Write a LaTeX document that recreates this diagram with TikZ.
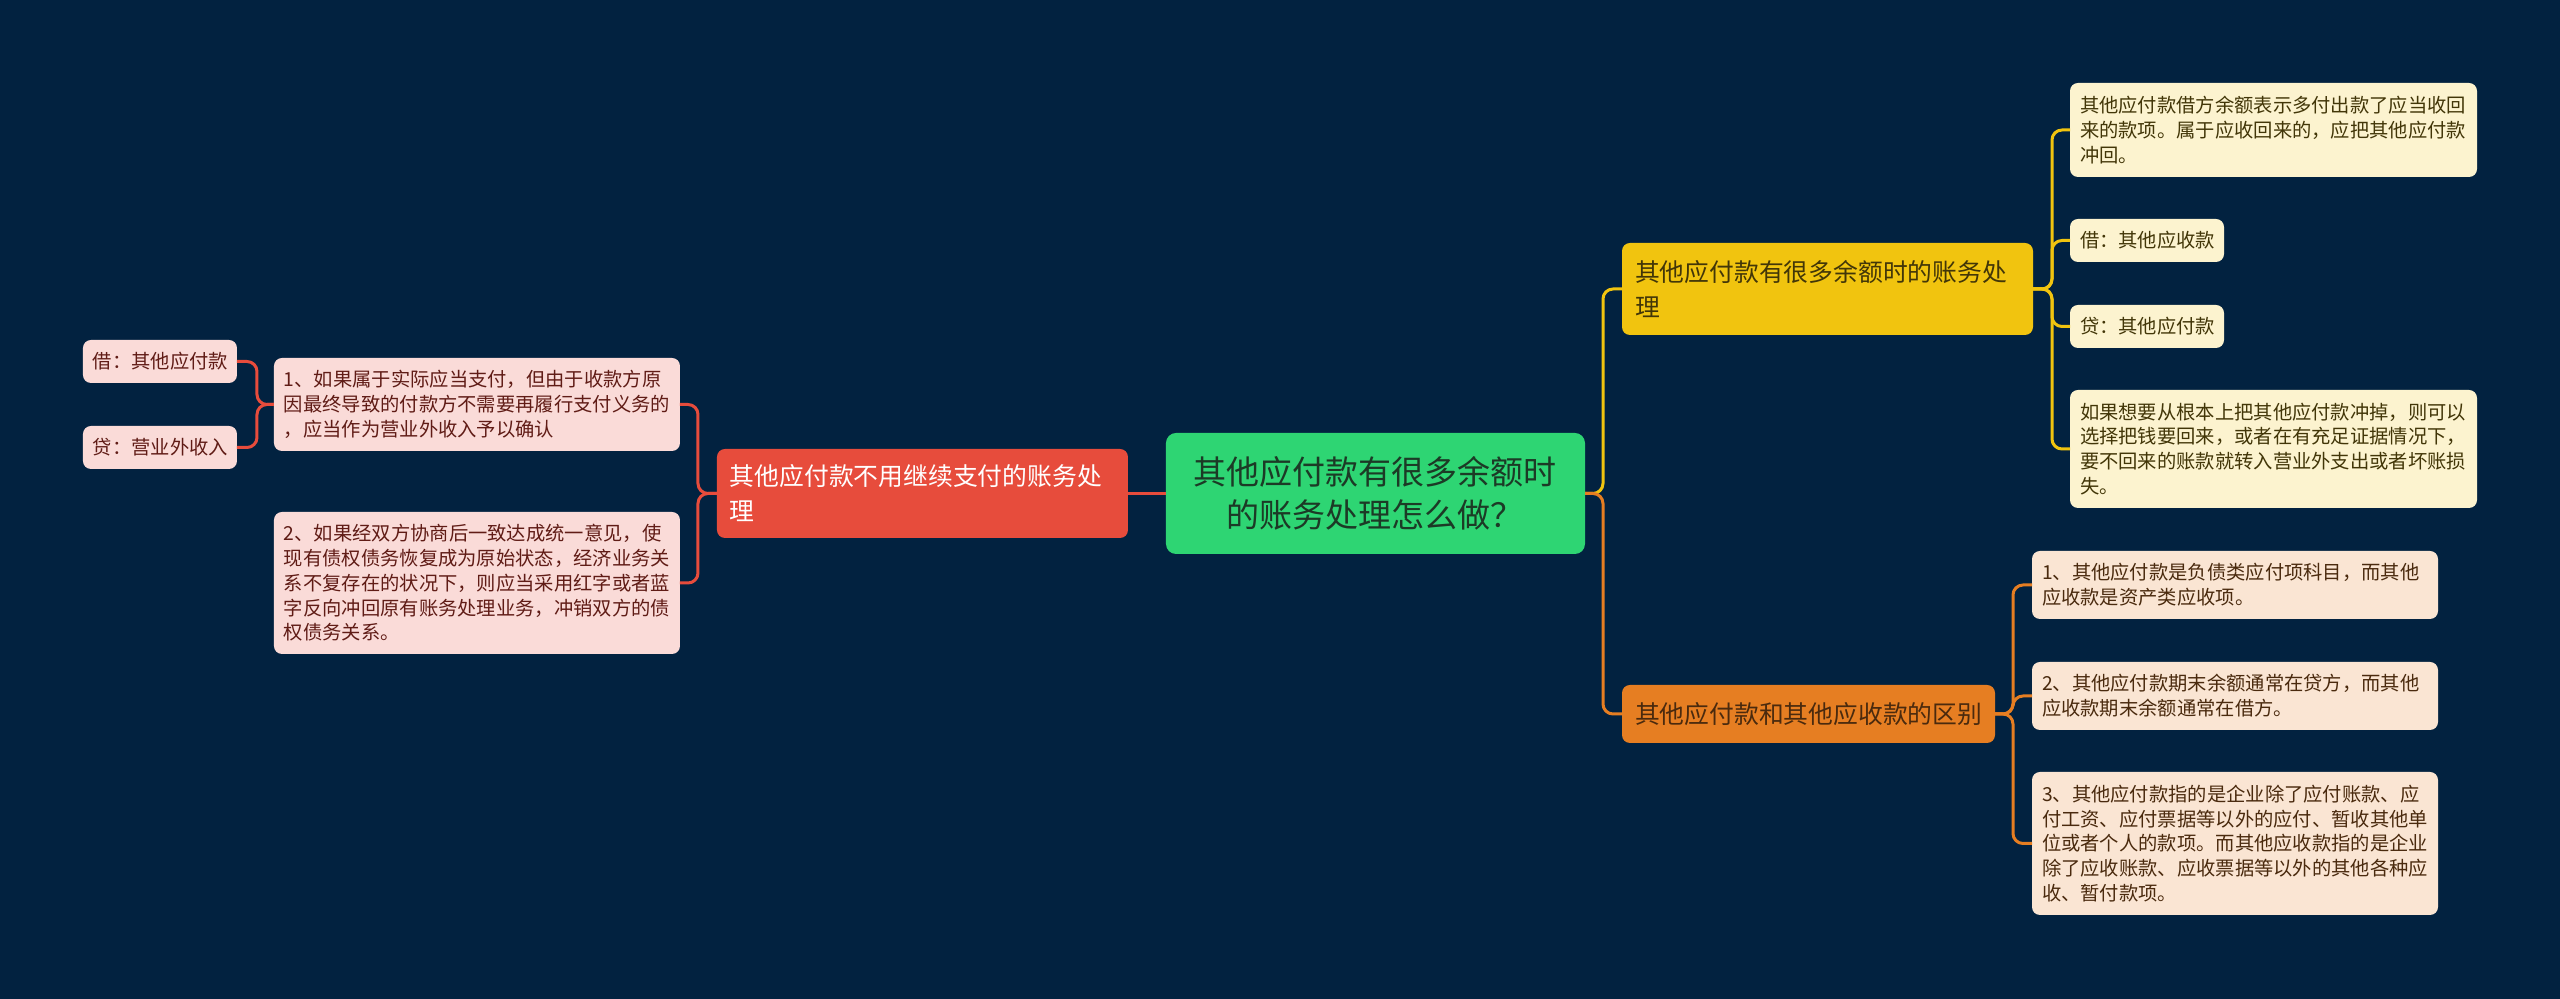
\documentclass[tikz,border=0pt]{standalone}
\usepackage{fontspec}
\setmainfont{Noto Sans CJK SC}
\usetikzlibrary{positioning}

\definecolor{bgnavy}{RGB}{2,34,64}
\definecolor{rootgreen}{RGB}{46,213,115}
\definecolor{redbr}{RGB}{231,76,60}
\definecolor{yellowbr}{RGB}{241,196,15}
\definecolor{orangebr}{RGB}{230,126,34}
\definecolor{redleaf}{RGB}{250,219,216}
\definecolor{yellowleaf}{RGB}{252,243,207}
\definecolor{orangeleaf}{RGB}{250,229,211}
\definecolor{roottext}{RGB}{28,58,38}
\definecolor{redtext}{RGB}{96,28,22}
\definecolor{yellowtext}{RGB}{66,54,8}
\definecolor{orangetext}{RGB}{74,42,14}

\begin{document}
\begin{tikzpicture}[
node distance = 21pt and 18.5pt,
every node/.style = {rounded corners=4pt, outer sep=0pt,
                     inner ysep=3pt, align=left},
rootbox/.style = {fill=rootgreen, text=roottext, rounded corners=5pt,
                  text width=181.5pt, inner xsep=14pt, minimum height=60.5pt,
                  align=center, font=\fontsize{16.5pt}{21.5pt}\selectfont},
branchbox/.style = {fill=#1, text width=192.5pt, inner xsep=6.5pt,
                    font=\fontsize{12.4pt}{17.5pt}\selectfont},
leafbox/.style = {fill=#1, text width=193pt, inner xsep=5pt,
                  font=\fontsize{9.65pt}{12.4pt}\selectfont},
conn/.style = {draw=#1, line width=1.5pt, rounded corners=5pt},
                    ]
%---
\fill[bgnavy, use as bounding box] (-687.75pt,246.75pt) rectangle (592.25pt,-252.75pt);


\node (root) [rootbox] {其他应付款有很多余额时\\的账务处理怎么做？};

% left branch
\node (red) [branchbox=redbr, text=white, minimum height=44.5pt, left=19pt of root]
      {其他应付款不用继续支付的账务处\\理};
\node (lpay1) [leafbox=redleaf, text=redtext, minimum height=46.5pt,
               above left=-1pt and 18.5pt of red]
      {1、如果属于实际应当支付，但由于收款方原\\因最终导致的付款方不需要再履行支付义务的\\，应当作为营业外收入予以确认};
\node (lpay2) [leafbox=redleaf, text=redtext, minimum height=71pt, below=30.5pt of lpay1]
      {2、如果经双方协商后一致达成统一意见，使\\现有债权债务恢复成为原始状态，经济业务关\\系不复存在的状况下，则应当采用红字或者蓝\\字反向冲回原有账务处理业务，冲销双方的债\\权债务关系。};
\node (ldebit) [leafbox=redleaf, text=redtext, text width=67pt, minimum height=21.5pt,
                above left=-12.5pt and 18.5pt of lpay1] {借：其他应付款};
\node (lcredit) [leafbox=redleaf, text=redtext, text width=67pt, minimum height=21.5pt,
                 below=21.5pt of ldebit] {贷：营业外收入};

% upper right branch
\node (yel) [branchbox=yellowbr, text=yellowtext, minimum height=46pt,
             above right=49pt and 18.5pt of root]
      {其他应付款有很多余额时的账务处\\理};
\node (ynote) [leafbox=yellowleaf, text=yellowtext, text width=193.5pt, minimum height=47pt,
               above right=33pt and 18.5pt of yel]
      {其他应付款借方余额表示多付出款了应当收回\\来的款项。属于应收回来的，应把其他应付款\\冲回。};
\node (ydebit) [leafbox=yellowleaf, text=yellowtext, text width=67pt, minimum height=21.5pt,
                below right=21pt and 0pt of ynote.south west] {借：其他应收款};
\node (ycredit) [leafbox=yellowleaf, text=yellowtext, text width=67pt, minimum height=21.5pt,
                 below=21.5pt of ydebit] {贷：其他应付款};
\node (ymore) [leafbox=yellowleaf, text=yellowtext, text width=193.5pt, minimum height=59pt,
               below right=21pt and 0pt of ycredit.south west]
      {如果想要从根本上把其他应付款冲掉，则可以\\选择把钱要回来，或者在有充足证据情况下，\\要不回来的账款就转入营业外支出或者坏账损\\失。};

% lower right branch
\node (org) [branchbox=orangebr, text=orangetext, text width=173.5pt, minimum height=29pt,
             below right=65.5pt and 18.5pt of root]
      {其他应付款和其他应收款的区别};
\node (odiff1) [leafbox=orangeleaf, text=orangetext, minimum height=34pt,
                above right=33pt and 18.5pt of org]
      {1、其他应付款是负债类应付项科目，而其他\\应收款是资产类应收项。};
\node (odiff2) [leafbox=orangeleaf, text=orangetext, minimum height=34pt,
                below=21.5pt of odiff1]
      {2、其他应付款期末余额通常在贷方，而其他\\应收款期末余额通常在借方。};
\node (odiff3) [leafbox=orangeleaf, text=orangetext, minimum height=71.5pt,
                below=21pt of odiff2]
      {3、其他应付款指的是企业除了应付账款、应\\付工资、应付票据等以外的应付、暂收其他单\\位或者个人的款项。而其他应收款指的是企业\\除了应收账款、应收票据等以外的其他各种应\\收、暂付款项。};

% connectors
\draw[conn=redbr] (root.west) -- (red.east);
\draw[conn=redbr] (red.west) -- ++(-9.5pt,0) |- (lpay1.east);
\draw[conn=redbr] (red.west) -- ++(-9.5pt,0) |- (lpay2.east);
\draw[conn=redbr] (lpay1.west) -- ++(-8.5pt,0) |- (ldebit.east);
\draw[conn=redbr] (lpay1.west) -- ++(-8.5pt,0) |- (lcredit.east);

\draw[conn=yellowbr] (root.east) -- ++(9pt,0) |- (yel.west);
\draw[conn=orangebr] (root.east) -- ++(9pt,0) |- (org.west);

\foreach \leaf in {ynote, ydebit, ycredit, ymore}
    \draw[conn=yellowbr] (yel.east) -- ++(9.5pt,0) |- (\leaf.west);
\foreach \leaf in {odiff1, odiff2, odiff3}
    \draw[conn=orangebr] (org.east) -- ++(9pt,0) |- (\leaf.west);


\end{tikzpicture}
\end{document}
